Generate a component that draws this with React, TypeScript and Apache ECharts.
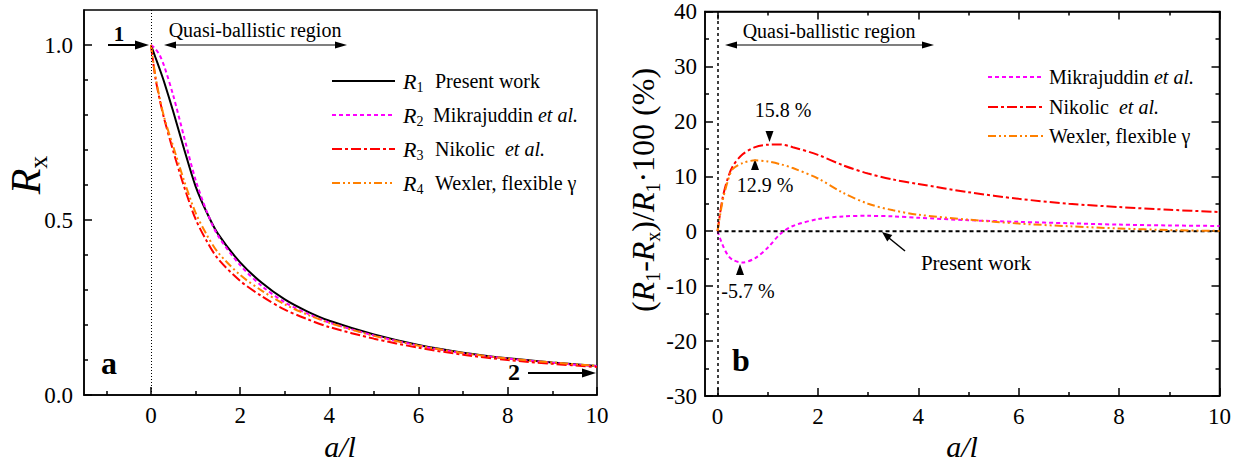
import React, { useEffect, useRef } from "react";
import * as echarts from "echarts";

// a/l sample points
const aOverL = [0, 0.1, 0.2, 0.3, 0.5, 0.75, 1, 1.25, 1.5, 2, 2.5, 3, 3.5, 4, 5, 6, 7, 8, 9, 10];
// panel a: normalized resistance
const r1Present = [1.0, 0.965, 0.93, 0.893, 0.81, 0.7, 0.597, 0.522, 0.461, 0.379, 0.319, 0.273, 0.239, 0.212, 0.173, 0.143, 0.121, 0.105, 0.093, 0.083];
const r2Mikrajuddin = [1.0, 0.989, 0.97, 0.939, 0.856, 0.734, 0.615, 0.525, 0.456, 0.371, 0.31, 0.265, 0.233, 0.207, 0.17, 0.141, 0.119, 0.104, 0.092, 0.082];
const r3Nikolic = [1.0, 0.907, 0.842, 0.788, 0.697, 0.593, 0.503, 0.44, 0.39, 0.326, 0.281, 0.244, 0.217, 0.194, 0.161, 0.135, 0.115, 0.1, 0.089, 0.08];
const r4Wexler = [1.0, 0.912, 0.846, 0.792, 0.71, 0.61, 0.521, 0.458, 0.408, 0.343, 0.297, 0.259, 0.23, 0.206, 0.169, 0.141, 0.12, 0.104, 0.093, 0.083];
// panel b: relative difference (%)
const dMikrajuddin = [0, -2.5, -4.3, -5.2, -5.7, -4.9, -3.0, -0.5, 0.95, 2.2, 2.7, 2.8, 2.7, 2.45, 2.0, 1.7, 1.45, 1.2, 1.05, 0.95];
const dNikolic = [0, 6.0, 9.5, 11.8, 14.0, 15.3, 15.75, 15.8, 15.3, 13.9, 12.0, 10.5, 9.4, 8.6, 7.1, 5.9, 5.0, 4.4, 3.9, 3.5];
const dWexler = [0, 5.5, 9.0, 11.3, 12.4, 12.9, 12.7, 12.2, 11.5, 9.6, 7.0, 5.0, 3.8, 3.0, 2.1, 1.4, 0.9, 0.5, 0.2, 0.05];
const presentX = [0, 10];
const presentY = [0, 0];

const xMajor = [0, 2, 4, 6, 8, 10];
const xMinorA = [-1, 1, 3, 5, 7, 9];
const xMinorB = [1, 3, 5, 7, 9];
const yMajorA = [0, 0.5, 1.0];
const yMinorA = [0.1, 0.2, 0.3, 0.4, 0.6, 0.7, 0.8, 0.9];

const FONT = "'Liberation Serif', 'Times New Roman', serif";
const MAG = "#ff00ff";
const RED = "#ff0000";
const ORA = "#ff8000";
const DASH = [4, 3];
const DASHDOT = [10, 3, 3, 3];
const DASHDOTDOT = [8, 3, 2, 3, 2, 3];

const zip = (xs: number[], ys: number[]) => xs.map((x, i) => [x, ys[i]]);

function App() {
  const ref = useRef<HTMLDivElement>(null);
  useEffect(() => {
    if (!ref.current) return;
    const chart = echarts.init(ref.current, undefined, { renderer: "svg" });

    const axisLine = { show: true, onZero: false, lineStyle: { color: "#000", width: 1.5 } };
    const noLine = { show: false, onZero: false };
    const tickStyle = { color: "#000", width: 1.5 };
    const labelStyle = { color: "#000", fontSize: 23, fontFamily: FONT };

    const xMajorAxis = (grid: number, min: number, position: string, labels: boolean) => ({
      type: "value", gridIndex: grid, min, max: 10, position,
      axisLine, splitLine: { show: false },
      axisTick: { show: true, inside: true, length: 8, customValues: xMajor, lineStyle: tickStyle },
      axisLabel: labels ? { show: true, customValues: xMajor, margin: 9, ...labelStyle } : { show: false },
    });
    const xMinorAxis = (grid: number, min: number, position: string, vals: number[]) => ({
      type: "value", gridIndex: grid, min, max: 10, position,
      axisLine: noLine, splitLine: { show: false },
      axisTick: { show: true, inside: true, length: 4, customValues: vals, lineStyle: tickStyle },
      axisLabel: { show: false },
    });
    const yB = (position: string, labels: boolean) => ({
      type: "value", gridIndex: 1, min: -30, max: 40, interval: 10, position,
      axisLine, splitLine: { show: false },
      axisTick: { show: true, inside: true, length: 8, lineStyle: tickStyle },
      minorTick: { show: true, splitNumber: 2, length: 4, lineStyle: tickStyle },
      axisLabel: labels ? { show: true, margin: 8, ...labelStyle } : { show: false },
    });

    const lineSeries = (name: string, xi: number, yi: number, data: number[][], color: string, type: any, width = 2) => ({
      type: "line", name, xAxisIndex: xi, yAxisIndex: yi, data, showSymbol: false, symbol: "none",
      smooth: 0.3, lineStyle: { color, width, type }, silent: true,
    });

    const legendLine = (x1: number, x2: number, y: number, color: string, dash: any) => ({
      type: "line", shape: { x1, y1: y, x2, y2: y },
      style: { stroke: color, lineWidth: 2, lineDash: dash },
    });
    const txt = (x: number, y: number, text: string, fontSize = 20, extra: any = {}) => ({
      type: "text", x, y,
      style: { text, fontSize, fontFamily: FONT, fill: "#000", align: "center", verticalAlign: "middle", ...extra },
    });
    const richDesc = {
      n: { fontSize: 20, fontFamily: FONT, fill: "#000" },
      i: { fontSize: 20, fontFamily: FONT, fontStyle: "italic", fill: "#000" },
    };
    const desc = (x: number, y: number, text: string) => ({
      type: "text", x, y,
      style: { text, rich: richDesc, align: "left", verticalAlign: "middle", fontFamily: FONT, fontSize: 20, fill: "#000" },
    });
    const rLabel = (x: number, y: number, sub: string) => ({
      type: "text", x, y,
      style: {
        text: `{i|R}{s|${sub}}`, align: "left", verticalAlign: "middle",
        rich: {
          i: { fontSize: 22, fontFamily: FONT, fontStyle: "italic", lineHeight: 26, fill: "#000" },
          s: { fontSize: 14, fontFamily: FONT, lineHeight: 16, verticalAlign: "bottom", fill: "#000" },
        },
      },
    });
    const poly = (points: number[][]) => ({ type: "polygon", shape: { points }, style: { fill: "#000" } });
    const seg = (x1: number, y1: number, x2: number, y2: number, w = 1.5) => ({
      type: "line", shape: { x1, y1, x2, y2 }, style: { stroke: "#000", lineWidth: w },
    });

    const option: any = {
      animation: false,
      backgroundColor: "#fff",
      textStyle: { fontFamily: FONT, color: "#000" },
      grid: [
        { left: 84, top: 10, width: 513, height: 385, show: true, borderColor: "#000", borderWidth: 1.5, backgroundColor: "transparent" },
        { left: 705, top: 9, width: 517, height: 387, show: true, borderColor: "#000", borderWidth: 1.5, backgroundColor: "transparent" },
      ],
      xAxis: [
        xMajorAxis(0, -1.5, "bottom", true),
        xMinorAxis(0, -1.5, "bottom", xMinorA),
        xMajorAxis(1, -0.25, "bottom", true),
        xMinorAxis(1, -0.25, "bottom", xMinorB),
        xMajorAxis(1, -0.25, "top", false),
        xMinorAxis(1, -0.25, "top", xMinorB),
      ],
      yAxis: [
        {
          type: "value", gridIndex: 0, min: 0, max: 1.1, position: "left",
          axisLine, splitLine: { show: false },
          axisTick: { show: true, inside: true, length: 8, customValues: yMajorA, lineStyle: tickStyle },
          axisLabel: { show: true, customValues: yMajorA, margin: 11, formatter: (v: number) => v.toFixed(1), ...labelStyle },
        },
        {
          type: "value", gridIndex: 0, min: 0, max: 1.1, position: "left",
          axisLine: noLine, splitLine: { show: false },
          axisTick: { show: true, inside: true, length: 4, customValues: yMinorA, lineStyle: tickStyle },
          axisLabel: { show: false },
        },
        yB("left", true),
        yB("right", false),
      ],
      series: [
        {
          ...lineSeries("R1 Present work", 0, 0, zip(aOverL, r1Present), "#000", "solid", 2),
          markLine: {
            silent: true, symbol: ["none", "none"], label: { show: false },
            lineStyle: { color: "#000", width: 1, type: [1, 2] },
            data: [{ xAxis: 0 }],
          },
        },
        lineSeries("R2 Mikrajuddin et al.", 0, 0, zip(aOverL, r2Mikrajuddin), MAG, DASH),
        lineSeries("R3 Nikolic et al.", 0, 0, zip(aOverL, r3Nikolic), RED, DASHDOT),
        lineSeries("R4 Wexler, flexible γ", 0, 0, zip(aOverL, r4Wexler), ORA, DASHDOTDOT),
        {
          ...lineSeries("Present work", 2, 2, zip(presentX, presentY), "#000", DASH, 2),
          smooth: false,
          markLine: {
            silent: true, symbol: ["none", "none"], label: { show: false },
            lineStyle: { color: "#000", width: 1.5, type: [3, 3] },
            data: [{ xAxis: 0 }],
          },
        },
        lineSeries("Mikrajuddin et al.", 2, 2, zip(aOverL, dMikrajuddin), MAG, DASH),
        lineSeries("Nikolic et al.", 2, 2, zip(aOverL, dNikolic), RED, DASHDOT),
        lineSeries("Wexler, flexible γ", 2, 2, zip(aOverL, dWexler), ORA, DASHDOTDOT),
      ],
      graphic: [
        // axis titles
        {
          type: "text", x: 26, y: 175, rotation: Math.PI / 2,
          style: {
            text: "{i|R}{s|x}", align: "center", verticalAlign: "middle",
            rich: {
              i: { fontSize: 42, fontFamily: FONT, fontStyle: "italic", lineHeight: 50, fill: "#000" },
              s: { fontSize: 26, fontFamily: FONT, lineHeight: 28, verticalAlign: "bottom", fill: "#000" },
            },
          },
        },
        {
          type: "text", x: 643, y: 190, rotation: Math.PI / 2,
          style: {
            text: "{n|(}{i|R}{s|1}{n|-}{i|R}{s|x}{n|)/}{i|R}{s|1}{n|·100 (%)}", align: "center", verticalAlign: "middle",
            rich: {
              n: { fontSize: 32, fontFamily: FONT, lineHeight: 40, fill: "#000" },
              i: { fontSize: 32, fontFamily: FONT, fontStyle: "italic", lineHeight: 40, fill: "#000" },
              s: { fontSize: 20, fontFamily: FONT, lineHeight: 22, verticalAlign: "bottom", fill: "#000" },
            },
          },
        },
        txt(340, 446, "a/l", 30, { fontStyle: "italic" }),
        txt(962, 446, "a/l", 30, { fontStyle: "italic" }),
        // panel a annotations
        txt(119, 34, "1", 21, { fontWeight: "bold" }),
        seg(108, 45, 140, 45, 2),
        poly([[149, 45], [135, 40.5], [135, 49.5]]),
        txt(255, 30, "Quasi-ballistic region", 20),
        seg(170, 45, 342, 45, 1.2),
        poly([[164, 45], [176, 41.5], [176, 48.5]]),
        poly([[347, 45], [335, 41.5], [335, 48.5]]),
        txt(109, 363, "a", 32, { fontWeight: "bold" }),
        txt(514, 372, "2", 24, { fontWeight: "bold" }),
        seg(528, 373, 586, 373, 2),
        poly([[596, 373], [582, 368.5], [582, 377.5]]),
        // panel a legend
        legendLine(332, 395, 81, "#000", null),
        legendLine(332, 395, 115, MAG, DASH),
        legendLine(332, 395, 149, RED, DASHDOT),
        legendLine(332, 395, 183, ORA, DASHDOTDOT),
        rLabel(403, 81, "1"),
        rLabel(403, 115, "2"),
        rLabel(403, 149, "3"),
        rLabel(403, 183, "4"),
        desc(435, 81, "{n|Present work}"),
        desc(433, 115, "{n|Mikrajuddin }{i|et al.}"),
        desc(435, 149, "{n|Nikolic  }{i|et al.}"),
        desc(435, 183, "{n|Wexler, flexible γ}"),
        // panel b legend
        legendLine(988, 1043, 77, MAG, DASH),
        legendLine(988, 1043, 107, RED, DASHDOT),
        legendLine(988, 1043, 136, ORA, DASHDOTDOT),
        desc(1049, 77, "{n|Mikrajuddin }{i|et al.}"),
        desc(1049, 107, "{n|Nikolic  }{i|et al.}"),
        desc(1049, 136, "{n|Wexler, flexible γ}"),
        // panel b annotations
        txt(829, 31, "Quasi-ballistic region", 20),
        seg(731, 45, 928, 45, 1.2),
        poly([[725, 45], [737, 41.5], [737, 48.5]]),
        poly([[934, 45], [922, 41.5], [922, 48.5]]),
        txt(783, 110, "15.8 %", 20),
        poly([[765.5, 131], [773.5, 131], [769.5, 142]]),
        txt(765, 185, "12.9 %", 20),
        poly([[755, 159], [751, 170], [759, 170]]),
        txt(748, 291, "-5.7 %", 20),
        poly([[740, 264], [736, 275], [744, 275]]),
        txt(976, 263, "Present work", 21),
        seg(905, 251, 889, 238, 1.5),
        poly([[882, 232], [892.3, 235.1], [887.3, 241.4]]),
        txt(741, 360, "b", 32, { fontWeight: "bold" }),
      ],
    };
    chart.setOption(option);
    return () => chart.dispose();
  }, []);
  return <div ref={ref} style={{ position: "fixed", left: 0, top: 0, width: 1234, height: 463 }} />;
}

export default App;
